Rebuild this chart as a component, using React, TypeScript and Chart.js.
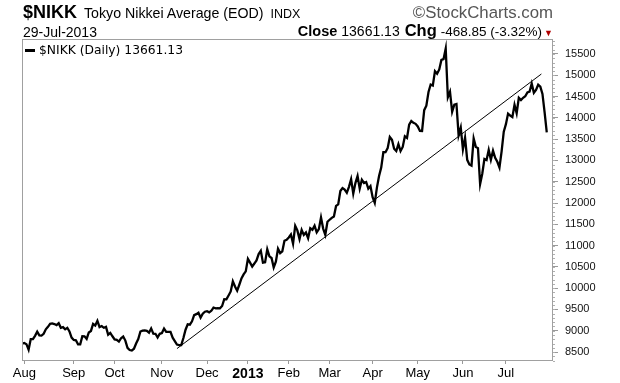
import React, { useEffect, useRef } from "react";
import { Chart, registerables } from "chart.js";

Chart.register(...registerables);

// Nikkei 225 daily closes (trading days), Jul 30 2012 - Jul 29 2013
const jul2012Tail = [8635, 8695];
const aug2012 = [8712, 8684, 8555, 8803, 8804, 8881, 8978, 8891, 8885, 8929, 9033, 9092, 9162, 9171, 9156, 9131, 9178, 9070, 9085, 9033, 9069, 8983, 8839];
const sep2012 = [8783, 8775, 8679, 8680, 8871, 8869, 8807, 8959, 8995, 9159, 9123, 9232, 9086, 9110, 9069, 9091, 8906, 8949, 8870];
const oct2012 = [8796, 8786, 8746, 8824, 8863, 8769, 8596, 8546, 8534, 8577, 8701, 8806, 8982, 9002, 9010, 8996, 8955, 9055, 8933, 8929, 8841, 8928];
const nov2012 = [8946, 9051, 8975, 8974, 8972, 8837, 8757, 8676, 8661, 8664, 8829, 9024, 9153, 9142, 9222, 9366, 9389, 9423, 9308, 9400, 9446];
const dec2012 = [9458, 9432, 9468, 9545, 9527, 9533, 9525, 9581, 9742, 9737, 9828, 9923, 10160, 10039, 9940, 10080, 10230, 10322, 10395];
const jan2013 = [10688, 10599, 10508, 10578, 10652, 10801, 10879, 10600, 10609, 10913, 10747, 10709, 10486, 10620, 10926, 10824, 10866, 11113, 11138];
const feb2013 = [11191, 11260, 11046, 11463, 11357, 11153, 11369, 11251, 11307, 11173, 11408, 11372, 11468, 11309, 11385, 11662, 11399, 11254, 11559];
const mar2013 = [11606, 11652, 11683, 11932, 11968, 12283, 12349, 12314, 12240, 12381, 12560, 12220, 12468, 12635, 12338, 12546, 12471, 12493, 12336, 12397];
const apr2013 = [12135, 12003, 12362, 12634, 12833, 13192, 13193, 13288, 13549, 13485, 13275, 13221, 13382, 13220, 13316, 13568, 13529, 13843, 13926, 13884, 13860];
const may2013 = [13799, 13694, 13692, 14180, 14285, 14607, 14782, 14758, 15096, 15037, 15138, 15360, 15381, 15627, 14483, 14612, 14143, 14311, 14326, 13589, 13774];
const jun2013 = [13262, 13534, 13014, 12904, 12877, 13514, 13318, 13289, 12446, 12687, 13033, 13008, 13245, 13014, 13230, 13062, 12969, 12834, 13213, 13677];
const jul2013 = [13852, 14099, 14055, 14018, 14309, 14109, 14472, 14416, 14472, 14506, 14599, 14615, 14808, 14589, 14658, 14778, 14731, 14562, 14129, 13661];

const months = [aug2012, sep2012, oct2012, nov2012, dec2012, jan2013, feb2013, mar2013, apr2013, may2013, jun2013, jul2013];
const monthLabels = ["Aug", "Sep", "Oct", "Nov", "Dec", "2013", "Feb", "Mar", "Apr", "May", "Jun", "Jul"];
const closes = [...jul2012Tail, ...months.flat()];

// Trend line anchors: [trading-day index, value]
const trendStart = [73, 8580];
const trendEnd = [242.5, 15030];

const yTicks = [8500, 9000, 9500, 10000, 10500, 11000, 11500, 12000, 12500, 13000, 13500, 14000, 14500, 15000, 15500];

const monthStarts: number[] = [];
{
  let idx = jul2012Tail.length;
  for (const m of months) {
    monthStarts.push(idx);
    idx += m.length;
  }
}

const boxPlugin = {
  id: "boxPlugin",
  afterDraw(chart: any) {
    const { ctx, chartArea } = chart;
    const y = chart.scales.y;
    ctx.save();
    ctx.strokeStyle = "#a0a0a0";
    ctx.lineWidth = 1;
    ctx.strokeRect(
      Math.round(chartArea.left) + 0.5,
      Math.round(chartArea.top) + 0.5,
      Math.round(chartArea.right - chartArea.left) - 1,
      Math.round(chartArea.bottom - chartArea.top) - 1
    );
    ctx.strokeStyle = "#b0b0b0";
    const start = Math.ceil(y.min / 100) * 100;
    for (let v = start; v <= y.max; v += 100) {
      const py = Math.round(y.getPixelForValue(v)) + 0.5;
      ctx.beginPath();
      ctx.moveTo(chartArea.right, py);
      ctx.lineTo(chartArea.right + 2, py);
      ctx.stroke();
    }
    ctx.restore();
  },
};

export default function App() {
  const ref = useRef<HTMLCanvasElement>(null);

  useEffect(() => {
    if (!ref.current) return;
    const chart = new Chart(ref.current, {
      type: "line",
      data: {
        datasets: [
          {
            data: closes.map((v, i) => ({ x: i, y: v })),
            borderColor: "#000",
            borderWidth: 2.3,
            pointRadius: 0,
            tension: 0,
          },
          {
            data: [
              { x: trendStart[0], y: trendStart[1] },
              { x: trendEnd[0], y: trendEnd[1] },
            ],
            borderColor: "#000",
            borderWidth: 1,
            pointRadius: 0,
          },
        ],
      },
      options: {
        responsive: false,
        animation: false,
        events: [],
        layout: { padding: { left: 22, top: 39, right: 0, bottom: 0 } },
        plugins: { legend: { display: false }, tooltip: { enabled: false } },
        scales: {
          x: {
            type: "linear",
            min: 0.93,
            max: 247.9,
            afterBuildTicks: (s: any) => {
              s.ticks = monthStarts.map((v) => ({ value: v }));
            },
            afterFit: (s: any) => {
              s.height = 22;
            },
            grid: { drawOnChartArea: false, drawTicks: true, tickLength: 3, color: "#999" },
            border: { display: false },
            ticks: {
              autoSkip: false,
              maxRotation: 0,
              padding: 2,
              color: "#000",
              font: (ctx: any) =>
                monthLabels[ctx.index] === "2013"
                  ? { family: "Liberation Sans", size: 14, weight: "bold" }
                  : { family: "Liberation Sans", size: 13 },
              callback: (_v: any, i: number) => monthLabels[i],
            },
          },
          y: {
            position: "right",
            min: 8289,
            max: 15852,
            afterBuildTicks: (s: any) => {
              s.ticks = yTicks.map((v) => ({ value: v }));
            },
            afterFit: (s: any) => {
              s.width = 67;
            },
            grid: { drawOnChartArea: false, drawTicks: true, tickLength: 5, color: "#999" },
            border: { display: false },
            ticks: {
              padding: 7,
              color: "#111",
              font: { family: "Liberation Sans", size: 11 },
              callback: (v: any) => String(v),
            },
          },
        },
      },
      plugins: [boxPlugin],
    });
    return () => chart.destroy();
  }, []);

  const base: React.CSSProperties = { position: "absolute", whiteSpace: "nowrap", fontFamily: "Liberation Sans, Arial, sans-serif", color: "#000" };

  return (
    <div style={{ position: "absolute", left: 0, top: 0, width: 620, height: 383, background: "#fff", overflow: "hidden" }}>
      <canvas ref={ref} width={620} height={383} style={{ position: "absolute", left: 0, top: 0, width: 620, height: 383 }} />
      <div style={{ ...base, left: 23, top: 2, lineHeight: "20px" }}>
        <span style={{ fontWeight: "bold", fontSize: 18 }}>$NIKK</span>
        <span style={{ fontSize: 14.2, marginLeft: 7 }}>Tokyo Nikkei Average (EOD)</span>
        <span style={{ fontSize: 12.5, marginLeft: 7 }}>INDX</span>
      </div>
      <div style={{ ...base, right: 620 - 553, top: 4, fontSize: 16.8, color: "#555", lineHeight: "18px" }}>
        ©StockCharts.com
      </div>
      <div style={{ ...base, left: 23, top: 24, fontSize: 14, lineHeight: "16px" }}>29-Jul-2013</div>
      <div style={{ ...base, right: 620 - 553, top: 22, lineHeight: "17px" }}>
        <span style={{ fontWeight: "bold", fontSize: 14.5 }}>Close</span>
        <span style={{ fontSize: 14, marginLeft: 4 }}>13661.13</span>
        <span style={{ fontWeight: "bold", fontSize: 16.5, marginLeft: 5 }}>Chg</span>
        <span style={{ fontSize: 13.5, marginLeft: 4 }}>-468.85 (-3.32%)</span>
        <span style={{ fontSize: 9, marginLeft: 2, color: "#b00000" }}>▼</span>
      </div>
      <div style={{ ...base, left: 25, top: 43, fontSize: 12.3, fontFamily: "DejaVu Sans, sans-serif", lineHeight: "14px", display: "flex", alignItems: "center" }}>
        <span style={{ display: "inline-block", width: 10, height: 3, background: "#000", marginRight: 4 }} />
        <span>$NIKK (Daily) 13661.13</span>
      </div>
    </div>
  );
}
